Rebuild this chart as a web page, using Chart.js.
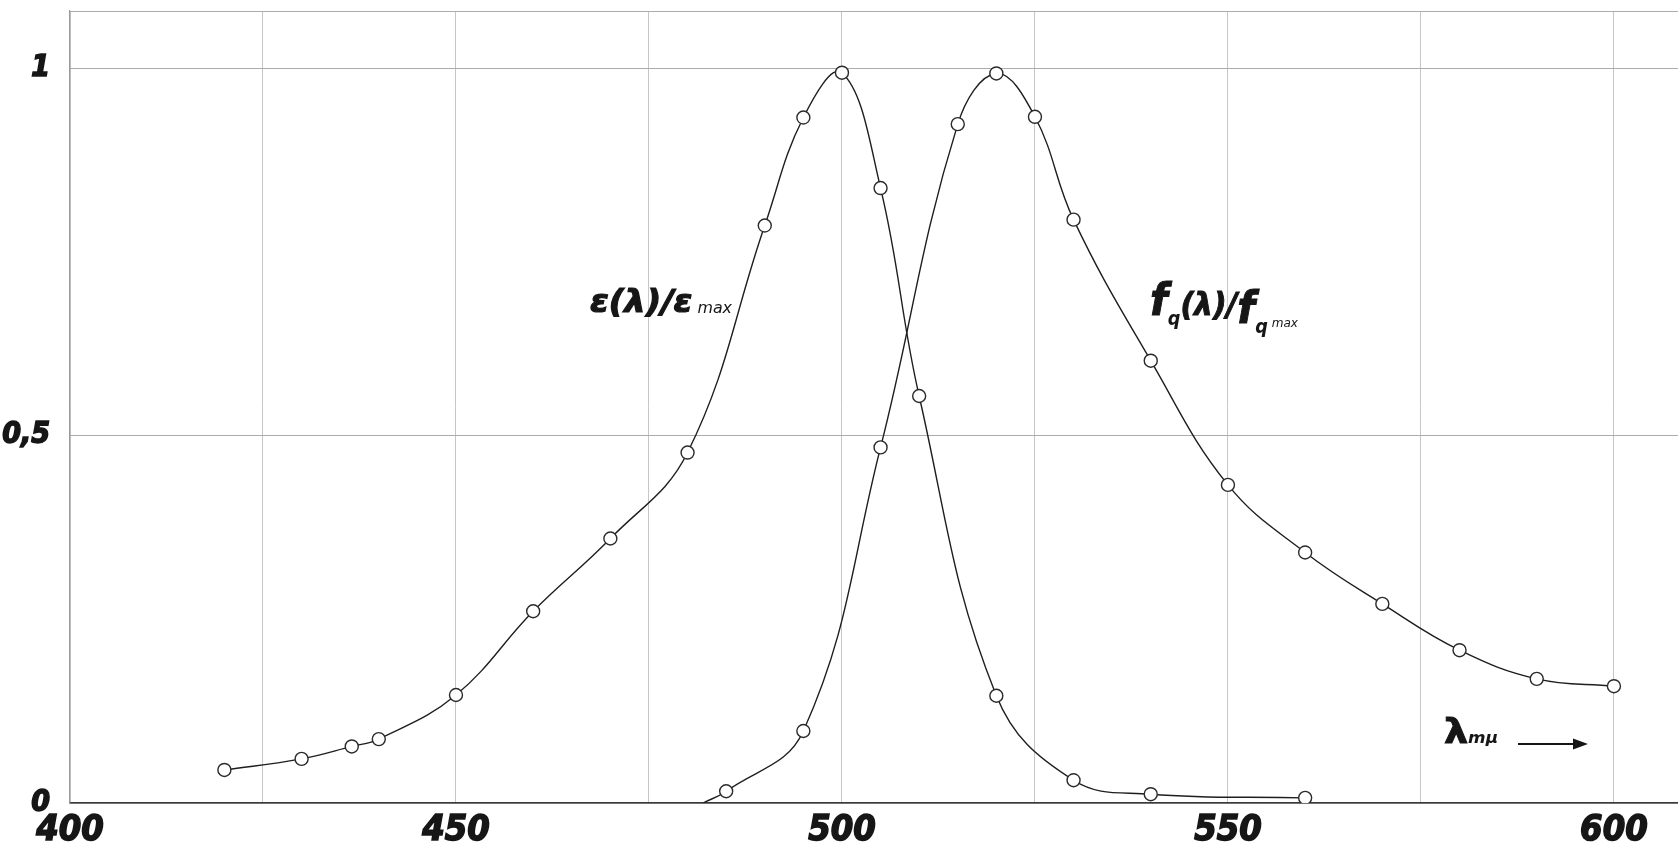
<!DOCTYPE html>
<html>
<head>
<meta charset="utf-8">
<script src="https://cdn.jsdelivr.net/npm/chart.js@4/dist/chart.umd.min.js"></script>
<style>
html, body { margin: 0; padding: 0; background: #fff; }
#wrap { width: 1678px; height: 848px; }
</style>
</head>
<body>
<div id="wrap"><canvas id="chart"></canvas></div>
<script>
// absorption curve eps(lambda)/eps max, wavelength in m-mu
var epsWave = [420, 430, 436.5, 440, 450, 460, 470, 480, 490, 495, 500, 505, 510, 520, 530, 540, 560];
var epsVal  = [0.045, 0.060, 0.077, 0.087, 0.147, 0.261, 0.360, 0.477, 0.786, 0.933, 0.994, 0.837, 0.554, 0.146, 0.031, 0.012, 0.007];

// fluorescence curve fq(lambda)/fq max (first value is where the line leaves the axis)
var fqWave = [482, 485, 495, 505, 515, 520, 525, 530, 540, 550, 560, 570, 580, 590, 600];
var fqVal  = [0, 0.016, 0.098, 0.484, 0.924, 0.993, 0.934, 0.794, 0.602, 0.433, 0.341, 0.271, 0.208, 0.169, 0.159];

var xGrid   = [400, 425, 450, 475, 500, 525, 550, 575, 600];
var xLabels = [400, 450, 500, 550, 600];
var yGrid   = [0, 0.5, 1];
var yLabels = ['0', '0,5', '1'];

var tickFont = "'Liberation Sans Narrow', 'DejaVu Sans Condensed', 'Liberation Sans', sans-serif";
var ink = '#161616';

function toPoints(xs, ys) {
	var pts = [];
	for (var i = 0; i < xs.length; i++) pts.push({ x: xs[i], y: ys[i] });
	return pts;
}

// draws a run of text pieces, squeezed/stretched to a given width
function drawParts(ctx, parts, x, y, width) {
	ctx.save();
	var total = 0;
	parts.forEach(function (p) {
		ctx.font = p.font;
		p.w = ctx.measureText(p.t).width;
		total += p.w;
	});
	ctx.translate(x, y);
	ctx.scale(width ? width / total : 1, 1);
	ctx.fillStyle = ink;
	ctx.strokeStyle = ink;
	ctx.textBaseline = 'alphabetic';
	var cx = 0;
	parts.forEach(function (p) {
		ctx.font = p.font;
		ctx.fillText(p.t, cx, p.dy || 0);
		if (p.heavy) {
			ctx.lineWidth = p.heavy;
			ctx.strokeText(p.t, cx, p.dy || 0);
		}
		cx += p.w;
	});
	ctx.restore();
}

var labelPlugin = {
	id: 'curveLabels',
	afterDraw: function (chart) {
		var ctx = chart.ctx;
		var bi = "bold italic ";
		var it = "italic ";
		var fam = " 'DejaVu Sans', sans-serif";

		drawParts(ctx, [
			{ t: 'ε(λ)/ε', font: bi + '32px' + fam, heavy: 1.2 },
			{ t: ' max', font: it + '15px' + fam, dy: 1 }
		], 590, 312, 142);

		drawParts(ctx, [
			{ t: 'f', font: bi + '44px' + fam, heavy: 1 },
			{ t: 'q', font: bi + '19px' + fam, dy: 10 },
			{ t: '(λ)/', font: bi + '32px' + fam, heavy: 1 },
			{ t: 'f', font: bi + '44px' + fam, dy: 8, heavy: 1 },
			{ t: 'q', font: bi + '19px' + fam, dy: 18 },
			{ t: ' max', font: it + '13px' + fam, dy: 12 }
		], 1150, 315, 148);

		drawParts(ctx, [
			{ t: 'λ', font: 'bold 34px' + fam, heavy: 1 },
			{ t: 'mμ', font: bi + '15px' + fam }
		], 1444, 743, 54);

		// arrow
		ctx.save();
		ctx.strokeStyle = ink;
		ctx.fillStyle = ink;
		ctx.lineWidth = 2.2;
		ctx.beginPath();
		ctx.moveTo(1518, 744);
		ctx.lineTo(1576, 744);
		ctx.stroke();
		ctx.beginPath();
		ctx.moveTo(1588, 744);
		ctx.lineTo(1573, 738.5);
		ctx.lineTo(1573, 749.5);
		ctx.closePath();
		ctx.fill();
		ctx.restore();
	}
};

var lineStyle = {
	borderColor: '#1e1e1e',
	borderWidth: 1.4,
	tension: 0.4,
	pointBackgroundColor: '#fff',
	pointBorderColor: '#2a2a2a',
	pointBorderWidth: 1.4,
	pointRadius: 6.5,
	fill: false
};

window.onload = function () {
	var ctx = document.getElementById('chart').getContext('2d');
	new Chart(ctx, {
		type: 'line',
		data: {
			datasets: [
				Object.assign({ label: 'eps', data: toPoints(epsWave, epsVal) }, lineStyle),
				Object.assign({ label: 'fq', data: toPoints(fqWave, fqVal) }, lineStyle, {
					pointRadius: function (c) { return c.dataIndex === 0 ? 0 : 6.5; }
				})
			]
		},
		options: {
			responsive: true,
			maintainAspectRatio: false,
			animation: false,
			layout: { autoPadding: false, padding: { top: 11, left: 0, right: 0, bottom: 0 } },
			plugins: { legend: { display: false }, tooltip: { enabled: false } },
			scales: {
				x: {
					type: 'linear',
					min: 400,
					max: 608.3,
					afterBuildTicks: function (s) {
						s.ticks = xGrid.map(function (v) { return { value: v }; });
					},
					afterFit: function (s) {
						s.height = 45;
						s.paddingLeft = 0;
						s.paddingRight = 0;
					},
					grid: { color: '#c6c6c6', lineWidth: 1, drawTicks: false },
					border: { color: '#3a3a3a', width: 1.6 },
					ticks: {
						autoSkip: false,
						maxRotation: 0,
						padding: 6,
						color: ink,
						textStrokeColor: ink,
						textStrokeWidth: 1.5,
						font: { family: tickFont, size: 36, weight: 'bold', style: 'italic' },
						callback: function (v) { return xLabels.indexOf(v) >= 0 ? String(v) : ''; }
					}
				},
				y: {
					min: 0,
					max: 1.078,
					afterBuildTicks: function (s) {
						s.ticks = yGrid.concat([s.max]).map(function (v) { return { value: v }; });
					},
					afterFit: function (s) {
						s.width = 70;
						s.paddingTop = 0;
						s.paddingBottom = 0;
					},
					grid: { color: '#ababab', lineWidth: 1, drawTicks: false },
					border: { color: '#9a9a9a', width: 1.2 },
					ticks: {
						padding: 20,
						color: ink,
						textStrokeColor: ink,
						textStrokeWidth: 1.5,
						font: { family: tickFont, size: 30, weight: 'bold', style: 'italic' },
						callback: function (v) {
							var i = yGrid.indexOf(v);
							return i >= 0 ? yLabels[i] : '';
						}
					}
				}
			}
		},
		plugins: [labelPlugin]
	});
};
</script>
</body>
</html>
